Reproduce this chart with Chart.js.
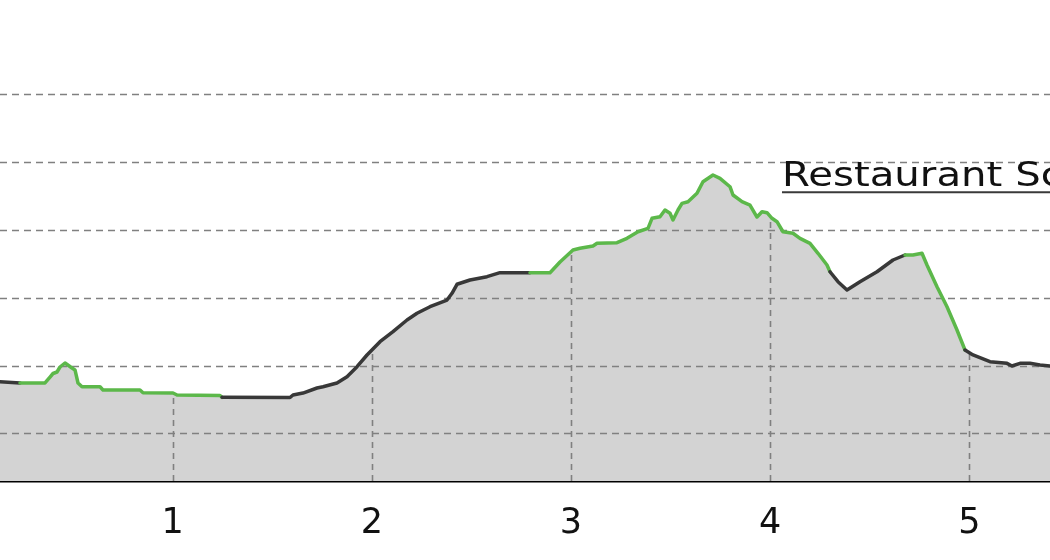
<!DOCTYPE html>
<html>
<head>
<meta charset="utf-8">
<script src="https://cdn.jsdelivr.net/npm/chart.js@4/dist/chart.umd.min.js"></script>
<style>
  html, body { margin: 0; padding: 0; background: #ffffff; }
  #wrap { width: 1050px; height: 560px; position: relative; }
</style>
</head>
<body>
<div id="wrap"><canvas id="c"></canvas></div>
<script>
// ---- data (distance vs. elevation profile) ----
const distance = [0.1077,0.1328,0.2332,0.3588,0.3839,0.3990,0.4190,0.4341,0.4592,0.4944,0.5094,0.5245,0.5446,0.6350,0.6500,0.8358,0.8509,1.0015,1.0216,1.2375,1.2476,1.5890,1.6041,1.6543,1.7246,1.7547,1.8250,1.8752,1.9255,1.9757,2.0410,2.1062,2.1765,2.2267,2.2920,2.3774,2.4025,2.4276,2.4929,2.5782,2.6435,2.7941,2.8946,2.9448,3.0101,3.0452,3.1105,3.1306,3.2310,3.2812,3.3364,3.3867,3.4068,3.4469,3.4720,3.4972,3.5122,3.5373,3.5574,3.5875,3.6327,3.6628,3.7130,3.7482,3.7984,3.8135,3.8587,3.8988,3.9340,3.9591,3.9842,4.0093,4.0344,4.0645,4.1147,4.1499,4.2001,4.2403,4.2855,4.3005,4.3407,4.3859,4.4512,4.5366,4.6169,4.6772,4.7173,4.7625,4.7876,4.8379,4.8881,4.9383,4.9784,5.0186,5.1040,5.1893,5.2144,5.2546,5.3048,5.3550,5.4053,5.4555];
const elevation = [17.64,17.61,17.42,17.42,18.30,18.82,19.04,19.78,20.37,19.63,19.34,17.42,16.87,16.87,16.39,16.39,15.99,15.94,15.65,15.58,15.31,15.28,15.65,15.94,16.68,16.87,17.42,18.35,19.82,21.55,23.51,24.99,26.71,27.70,28.67,29.66,30.65,31.98,32.61,33.10,33.69,33.69,33.69,35.27,37.04,37.29,37.63,38.02,38.11,38.76,39.73,40.24,41.71,41.95,42.94,42.45,41.46,42.94,43.92,44.16,45.40,47.11,48.10,47.61,46.37,45.15,44.16,43.67,41.90,42.68,42.54,41.71,41.21,39.73,39.50,38.76,38.02,36.55,34.82,33.83,32.36,31.14,32.36,33.83,35.56,36.30,36.30,36.55,34.82,31.62,28.67,25.24,22.29,21.55,20.56,20.32,19.93,20.32,20.32,20.07,19.93,19.85];
// stretches drawn in green (start, end distance)
const greenStretches = [[0.2332, 1.2476], [2.7941, 4.3005], [4.6772, 4.9784]];
const xTickValues = [1, 2, 3, 4, 5];
const yGridValues = [10, 20, 30, 40, 50, 60];
const annotationText = 'Restaurant Sc';
const annotationAt = { x: 4.0595, y: 46.52 };

const points = distance.map((d, i) => ({ x: d, y: elevation[i] }));
const GREEN = '#5cb84a', DARK = '#383838';

function isGreen(x0, x1) {
  return greenStretches.some(([a, b]) => x0 >= a - 1e-6 && x1 <= b + 1e-6);
}
function elevAt(x) {
  for (let i = 0; i < distance.length - 1; i++) {
    if (x >= distance[i] && x <= distance[i + 1]) {
      const t = (x - distance[i]) / (distance[i + 1] - distance[i]);
      return elevation[i] + t * (elevation[i + 1] - elevation[i]);
    }
  }
  return elevation[elevation.length - 1];
}

const gridPlugin = {
  id: 'profileGrid',
  afterDatasetDraw(chart, args) {
    if (args.index !== 1) return;
    const { ctx, chartArea, scales: { x, y } } = chart;
    ctx.save();
    ctx.strokeStyle = '#808080';
    ctx.lineWidth = 1.6;
    ctx.setLineDash([7, 5]);
    yGridValues.forEach(v => {
      const py = Math.round(y.getPixelForValue(v)) + 0.5;
      ctx.beginPath();
      ctx.moveTo(chartArea.left, py);
      ctx.lineTo(chartArea.right, py);
      ctx.stroke();
    });
    ctx.setLineDash([6, 5]);
    xTickValues.forEach(v => {
      const px = Math.round(x.getPixelForValue(v)) + 0.5;
      ctx.beginPath();
      ctx.moveTo(px, chartArea.bottom);
      ctx.lineTo(px, y.getPixelForValue(elevAt(v)));
      ctx.stroke();
    });
    ctx.restore();
  },
  afterDraw(chart) {
    const { ctx, scales: { x, y }, chartArea } = chart;
    const px = x.getPixelForValue(annotationAt.x);
    const py = y.getPixelForValue(annotationAt.y);
    ctx.save();
    ctx.translate(px, py);
    ctx.scale(1.22, 1);
    ctx.font = '33px "DejaVu Sans"';
    ctx.fillStyle = '#111111';
    ctx.textBaseline = 'alphabetic';
    ctx.textAlign = 'left';
    ctx.fillText(annotationText, 0, 0);
    ctx.restore();
    ctx.save();
    ctx.strokeStyle = '#3a3a3a';
    ctx.lineWidth = 2;
    ctx.beginPath();
    ctx.moveTo(px, py + 6.5);
    ctx.lineTo(chartArea.right + 20, py + 6.5);
    ctx.stroke();
    ctx.restore();
  }
};

new Chart(document.getElementById('c'), {
  type: 'line',
  data: {
    datasets: [
      {
        data: points,
        order: 0,
        borderWidth: 3.5,
        borderColor: DARK,
        borderJoinStyle: 'round',
        borderCapStyle: 'round',
        pointRadius: 0,
        fill: false,
        tension: 0,
        segment: {
          borderColor: c => isGreen(c.p0.parsed.x, c.p1.parsed.x) ? GREEN : DARK
        }
      },
      {
        data: points,
        order: 1,
        borderWidth: 0,
        pointRadius: 0,
        fill: 'start',
        backgroundColor: '#d3d3d3',
        tension: 0
      }
    ]
  },
  options: {
    responsive: true,
    maintainAspectRatio: false,
    animation: false,
    events: [],
    layout: { padding: 0 },
    plugins: { legend: { display: false }, tooltip: { enabled: false } },
    scales: {
      x: {
        type: 'linear',
        min: 0.1328,
        max: 5.4053,
        afterBuildTicks: axis => { axis.ticks = xTickValues.map(v => ({ value: v })); },
        afterFit: axis => { axis.height = 79; },
        grid: { display: false, drawTicks: false },
        border: { display: true, color: '#000000', width: 2.5 },
        ticks: {
          padding: 22,
          color: '#111111',
          font: { family: 'DejaVu Sans', size: 35 },
          maxRotation: 0,
          autoSkip: false,
          callback: v => String(v)
        }
      },
      y: {
        type: 'linear',
        display: false,
        min: 2.965,
        max: 73.91
      }
    }
  },
  plugins: [gridPlugin]
});
</script>
</body>
</html>
